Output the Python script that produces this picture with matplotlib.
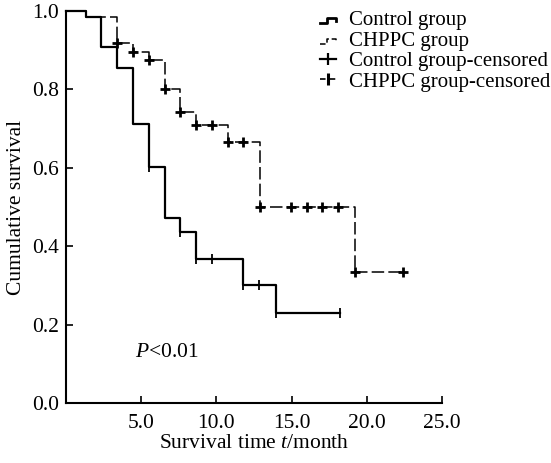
import matplotlib
matplotlib.use("Agg")
import matplotlib.pyplot as plt
from matplotlib.legend_handler import HandlerBase
from matplotlib.lines import Line2D

# values (time on the drawn axis, survival fraction)
control_t = [0, 1.33, 2.3, 3.4, 4.45, 5.5, 6.55, 7.6, 8.65, 11.8, 13.95, 18.2]
control_s = [1.0, 0.984, 0.907, 0.854, 0.711, 0.603, 0.471, 0.435, 0.367, 0.301, 0.229, 0.229]
control_cens_t = [5.5, 7.6, 8.65, 9.7, 11.8, 12.85, 13.95, 18.2]
control_cens_s = [0.603, 0.435, 0.367, 0.367, 0.301, 0.301, 0.229, 0.229]

chppc_t = [0, 1.33, 3.4, 4.45, 5.5, 6.55, 7.6, 8.65, 10.8, 12.9, 19.2, 22.4]
chppc_s = [1.0, 0.984, 0.919, 0.896, 0.875, 0.801, 0.743, 0.709, 0.665, 0.499, 0.333, 0.333]
chppc_cens_t = [3.4, 4.45, 5.5, 6.55, 7.6, 8.65, 9.7, 10.8, 11.8, 12.9, 14.95, 16.0, 17.05, 18.1, 19.2, 22.4]
chppc_cens_s = [0.919, 0.896, 0.875, 0.801, 0.743, 0.709, 0.709, 0.665, 0.665, 0.499, 0.499, 0.499, 0.499, 0.499, 0.333, 0.333]

x_ticks = [5, 10, 15, 20, 25]
y_ticks = [0.0, 0.2, 0.4, 0.6, 0.8, 1.0]

FS = 15.5
plt.rcParams.update({
    "font.family": "Liberation Serif",
    "font.size": FS,
    "mathtext.fontset": "custom",
    "mathtext.rm": "Liberation Serif",
    "mathtext.it": "Liberation Serif:italic",
    "lines.scale_dashes": False,
})

DASH = (0, (9, 3))


class StepHandler(HandlerBase):
    """Legend handle drawn as a small step, like the KM curve."""

    def __init__(self, lw, ls):
        super().__init__()
        self.lw, self.ls = lw, ls

    def create_artists(self, legend, orig, xd, yd, w, h, fontsize, trans):
        x0, y0 = -xd, -yd
        xs = [x0, x0 + 0.45 * w, x0 + 0.45 * w, x0 + w, x0 + w]
        ys = [y0 + 0.15 * h, y0 + 0.15 * h, y0 + 0.5 * h, y0 + 0.5 * h, y0 + 0.3 * h]
        ln = Line2D(xs, ys, color="black", lw=self.lw, linestyle=self.ls, transform=trans)
        return [ln]


fig = plt.figure(figsize=(5.51, 4.63), dpi=100)
ax = fig.add_axes([66 / 551, 60 / 463, 376 / 551, 392 / 463])

ax.step(chppc_t, chppc_s, where="post", color="black", lw=1.1, linestyle=DASH, clip_on=False)
ax.step(control_t, control_s, where="post", color="black", lw=1.6, clip_on=False)
ax.plot(chppc_cens_t, chppc_cens_s, "+", color="black", ms=7, mew=2.0, clip_on=False)
ax.plot(control_cens_t, control_cens_s, "|", color="black", ms=7, mew=1.3, clip_on=False)

ax.set_xlim(0, 25)
ax.set_ylim(0, 1.0)
ax.set_xticks(x_ticks)
ax.set_xticklabels([f"{v:.1f}" for v in x_ticks])
ax.set_yticks(y_ticks)
ax.set_yticklabels([f"{v:.1f}" for v in y_ticks])
ax.tick_params(axis="x", direction="in", length=5, width=1.2, pad=8)
ax.tick_params(axis="y", direction="in", length=5, width=1.2, pad=5)
for s in ("top", "right"):
    ax.spines[s].set_visible(False)
for s in ("left", "bottom"):
    ax.spines[s].set_linewidth(1.5)

ax.set_xlabel("Survival time $t$/month", labelpad=1)
ax.set_ylabel("Cumulative survival", labelpad=4)
ax.text(4.6, 0.13, "$P$<0.01", fontsize=FS, va="center")

h_ctrl = Line2D([], [], color="black", lw=2.0)
h_chppc = Line2D([], [], color="black", lw=1.1, linestyle=DASH)
h_ctrl_c = Line2D([0], [0], color="black", lw=1.6, marker="|", ms=8, mew=1.6)
h_chppc_c = Line2D([0], [0], color="black", lw=1.2, linestyle=(0, (4, 3)), marker="|", ms=8, mew=2.2)
fig.legend(
    [h_ctrl, h_chppc, h_ctrl_c, h_chppc_c],
    ["Control group", "CHPPC group", "Control group-censored", "CHPPC group-censored"],
    handler_map={h_ctrl: StepHandler(2.0, "-"), h_chppc: StepHandler(1.1, (0, (4, 2)))},
    loc="upper left", bbox_to_anchor=(0.555, 1.008), frameon=False,
    handlelength=0.75, handletextpad=0.6, labelspacing=0.04, borderpad=0.2,
    fontsize=15,
)

fig.savefig("out.png", dpi=100)
